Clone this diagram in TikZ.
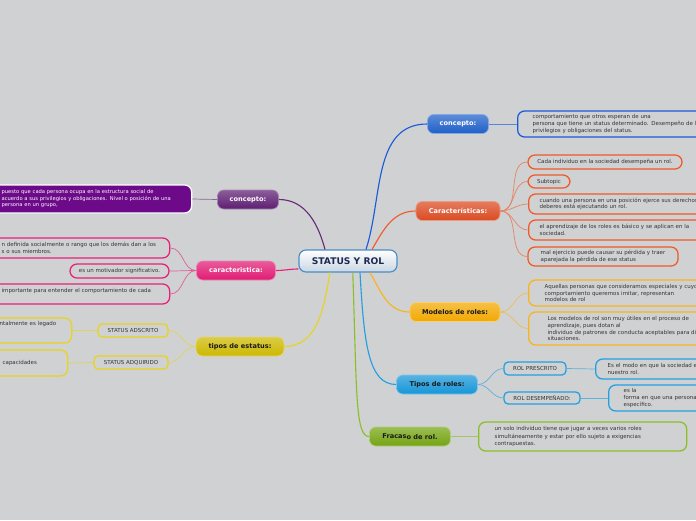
\documentclass[tikz,border=0pt]{standalone}
\usepackage{fontspec}
\setmainfont{DejaVu Sans}
\definecolor{bg}{HTML}{D0D1D3}
\definecolor{txt}{HTML}{333333}
\definecolor{dark}{HTML}{1A1A1A}
\definecolor{navy}{HTML}{1C2A52}
\definecolor{rootline}{HTML}{4A8CC8}
\definecolor{rootbot}{HTML}{C9D6E2}
\definecolor{purp}{HTML}{5E1E72}
\definecolor{pink}{HTML}{E01C74}
\definecolor{yel}{HTML}{CDB800}
\definecolor{blu}{HTML}{1E5FC8}
\definecolor{red}{HTML}{DA4A20}
\definecolor{amb}{HTML}{F2A800}
\definecolor{sky}{HTML}{1696D8}
\definecolor{grn}{HTML}{74A412}
\definecolor{purpfill}{HTML}{6C0A8A}
\definecolor{purpline}{HTML}{6A2A7A}
\definecolor{pinkline}{HTML}{E8207A}
\definecolor{yline}{HTML}{E8D41A}
\definecolor{bline}{HTML}{1A5AD8}
\definecolor{rline}{HTML}{F05A28}
\definecolor{aline}{HTML}{F8B41A}
\definecolor{sline}{HTML}{20A0E0}
\definecolor{gline}{HTML}{8CBF26}
\tikzset{
  topic/.style={rounded corners=4.5pt, top color=#1!72!white, bottom color=#1,
    draw=#1!55!white, line width=0.5pt, text=white,
    font=\bfseries\fontsize{4.7}{5.6}\selectfont, minimum height=0.475cm, inner sep=0pt},
  leaf/.style={draw=#1, line width=0.9pt, rounded corners=5pt, fill=bg, align=left,
    font=\fontsize{3.9}{4.75}\selectfont, text=txt, inner ysep=0pt},
  tag/.style={draw=#1, line width=0.9pt, rounded corners=3pt, fill=bg,
    font=\fontsize{3.9}{4.75}\selectfont, text=txt, inner sep=0pt},
  link/.style={draw=#1, line width=0.8pt},
  twig/.style={draw=#1!65!bg, line width=0.5pt}
}
\begin{document}
\begin{tikzpicture}[x=0.025cm, y=-0.025cm]
  \useasboundingbox (0,0) rectangle (696,520);
  \clip (0,0) rectangle (696,520);
  \fill[bg] (0,0) rectangle (696,520);

  \node[draw=rootline, line width=0.8pt, rounded corners=5pt, top color=white, bottom color=rootbot,
    minimum width=2.45cm, minimum height=0.55cm, inner sep=0pt, text=navy,
    font=\bfseries\fontsize{6.5}{7.5}\selectfont] (root) at (348,261) {STATUS Y ROL};

  \node[topic=purp, minimum width=1.525cm] (concL) at (248,199.5) {concepto:};
  \node[topic=pink, minimum width=1.975cm] (carL) at (236,270.5) {caracteristica:};
  \node[topic=yel, minimum width=2.2cm, text=dark] (tipE) at (240,346.5) {tipos de estatus:};
  \node[topic=blu, minimum width=1.525cm] (concR) at (458,124) {concepto:};
  \node[topic=red, minimum width=2.1cm] (carR) at (458,211) {Características:};
  \node[topic=amb, minimum width=2.25cm, text=dark] (modR) at (455,312) {Modelos de roles:};
  \node[topic=sky, minimum width=2.025cm, text=dark] (tipR) at (437,384.5) {Tipos de roles:};
  \node[topic=grn, minimum width=2.025cm, text=dark] (fraR) at (410,436.5) {Fracas\raisebox{-0.7pt}{o de rol.}};

  \node[leaf=white, fill=purpfill, text=white, anchor=west, text width=4.5cm, inner xsep=0.25cm,
    minimum height=0.7cm, font=\fontsize{3.7}{4.6}\selectfont] (pur) at (-9,199) {puesto que cada persona ocupa en la estructura social de\\acuerdo a sus privilegios y obligaciones. Nivel o posición de una\\persona en un grupo,};
  \node[leaf=pinkline, anchor=west, text width=3.95cm, inner xsep=0.25cm, minimum height=0.5cm] (pk1) at (-9,248) {n definida socialmente o rango que los demás dan a los\\s o sus miembros.};
  \node[leaf=pinkline, minimum width=2.475cm, minimum height=0.35cm] (pk2) at (119.5,271) {es un motivador significativo.};
  \node[leaf=pinkline, anchor=west, text width=3.95cm, inner xsep=0.25cm, minimum height=0.5cm] (pk3) at (-9,294) {importante para entender el comportamiento de cada\\\mbox{}};
  \node[leaf=yline, anchor=west, text width=1.55cm, inner xsep=0.25cm, minimum height=0.625cm] (ly1) at (-11,330.5) {ntalmente es legado\\\mbox{}\\\mbox{}};
  \node[leaf=yline, anchor=west, text width=1.375cm, inner xsep=0.25cm, minimum height=0.65cm] (ly2) at (-8,363) {capacidades};
  \node[tag=yline, minimum width=1.75cm, minimum height=0.325cm] (adsc) at (133,330.5) {STATUS ADSCRITO};
  \node[tag=yline, minimum width=1.85cm, minimum height=0.325cm] (adqu) at (131,362.5) {STATUS ADQUIRIDO};

  \node[leaf=bline, anchor=west, text width=5.5cm, inner xsep=0.375cm, minimum height=0.65cm] (cbl) at (517,124) {comportamiento que otros esperan de una\\persona que tiene un status determinado. Desempeño de los\\privilegios y obligaciones del status.};
  \node[leaf=rline, minimum width=3.85cm, minimum height=0.35cm] (or1) at (605,162) {Cada individuo en la sociedad desempeña un rol.};
  \node[leaf=rline, minimum width=1.05cm, minimum height=0.325cm] (or2) at (549,181.5) {Subtopic};
  \node[leaf=rline, anchor=west, text width=5cm, inner xsep=0.275cm, minimum height=0.5cm] (or3) at (528,204) {cuando una persona en una posición ejerce sus derechos y\\deberes está ejecutando un rol.};
  \node[leaf=rline, anchor=west, text width=5cm, inner xsep=0.275cm, minimum height=0.5cm] (or4) at (528,230) {el aprendizaje de los roles es básico y se aplican en la\\sociedad.};
  \node[leaf=rline, minimum width=3.75cm, minimum height=0.475cm] (or5) at (603,256.5) {mal ejercicio puede causar su pérdida y traer\\aparejada la pérdida de ese status};
  \node[leaf=aline, anchor=west, text width=5cm, inner xsep=0.4cm, minimum height=0.65cm] (am1) at (528,293) {Aquellas personas que consideramos especiales y cuyo\\comportamiento queremos imitar, representan\\modelos de rol};
  \node[leaf=aline, anchor=west, text width=5cm, inner xsep=0.475cm, minimum height=0.825cm] (am2) at (528,328.5) {Los modelos de rol son muy útiles en el proceso de\\aprendizaje, pues dotan al\\individuo de patrones de conducta aceptables para distintas\\situaciones.};
  \node[tag=sline, minimum width=1.55cm, minimum height=0.325cm] (rpre) at (535,368.5) {ROL PRESCRITO};
  \node[tag=sline, minimum width=1.9cm, minimum height=0.3cm] (rdes) at (542,398) {ROL DESEMPEÑADO:};
  \node[leaf=sline, anchor=west, text width=4cm, inner xsep=0.3cm, minimum height=0.5cm] (sk1) at (595,369) {Es el modo en que la sociedad espera\\nuestro rol.};
  \node[leaf=sline, anchor=west, text width=4cm, inner xsep=0.375cm, minimum height=0.65cm] (sk2) at (608,398) {es la\\forma en que una persona\\específico.};
  \node[leaf=gline, anchor=west, text width=4.4cm, inner xsep=0.4cm, minimum height=0.725cm,
    font=\fontsize{3.9}{5.4}\selectfont] (fr1) at (478,436.5) {un solo individuo tiene que jugar a veces varios roles\\simultáneamente y estar por ello sujeto a exigencias\\contrapuestas.};

  \draw[link=purpline] ([xshift=-0.575cm]root.north) to[out=105,in=0] (concL.east);
  \draw[link=pinkline] ([yshift=-0.2cm]root.west) to[out=180,in=0] (carL.east);
  \draw[link=yline] ([xshift=-0.45cm]root.south) to[out=-100,in=0] (tipE.east);
  \draw[link=bline] ([xshift=0.45cm]root.north) to[out=72,in=180] (concR.west);
  \draw[link=rline] ([xshift=0.6cm]root.north) to[out=60,in=180] (carR.west);
  \draw[link=aline] ([xshift=0.55cm]root.south) to[out=-60,in=180] (modR.west);
  \draw[link=sline] ([xshift=0.3cm]root.south) .. controls +(4,70) and +(-28,0) .. (tipR.west);
  \draw[link=gline] ([xshift=0.12cm]root.south) .. controls +(4,120) and +(-14,0) .. (fraR.west);

  \draw[twig=purpline] (concL.west) -- (pur.east);
  \foreach \n in {pk1,pk2,pk3}
    \draw[twig=pinkline] (carL.west) to[out=180,in=0] (\n.east);
  \foreach \n in {adsc,adqu}
    \draw[twig=yline] (tipE.west) to[out=180,in=0] (\n.east);
  \draw[twig=yline] (adsc.west) -- (ly1.east);
  \draw[twig=yline] (adqu.west) -- (ly2.east);
  \draw[twig=bline] (concR.east) -- (cbl.west);
  \foreach \n in {or1,or2,or3,or4,or5}
    \draw[twig=rline] (carR.east) to[out=0,in=180] (\n.west);
  \foreach \n in {am1,am2}
    \draw[twig=aline] (modR.east) to[out=0,in=180] (\n.west);
  \foreach \n in {rpre,rdes}
    \draw[twig=sline] (tipR.east) to[out=0,in=180] (\n.west);
  \draw[twig=sline] (rpre.east) -- (sk1.west);
  \draw[twig=sline] (rdes.east) -- (sk2.west);
  \draw[twig=gline] (fraR.east) -- (fr1.west);
\end{tikzpicture}
\end{document}
